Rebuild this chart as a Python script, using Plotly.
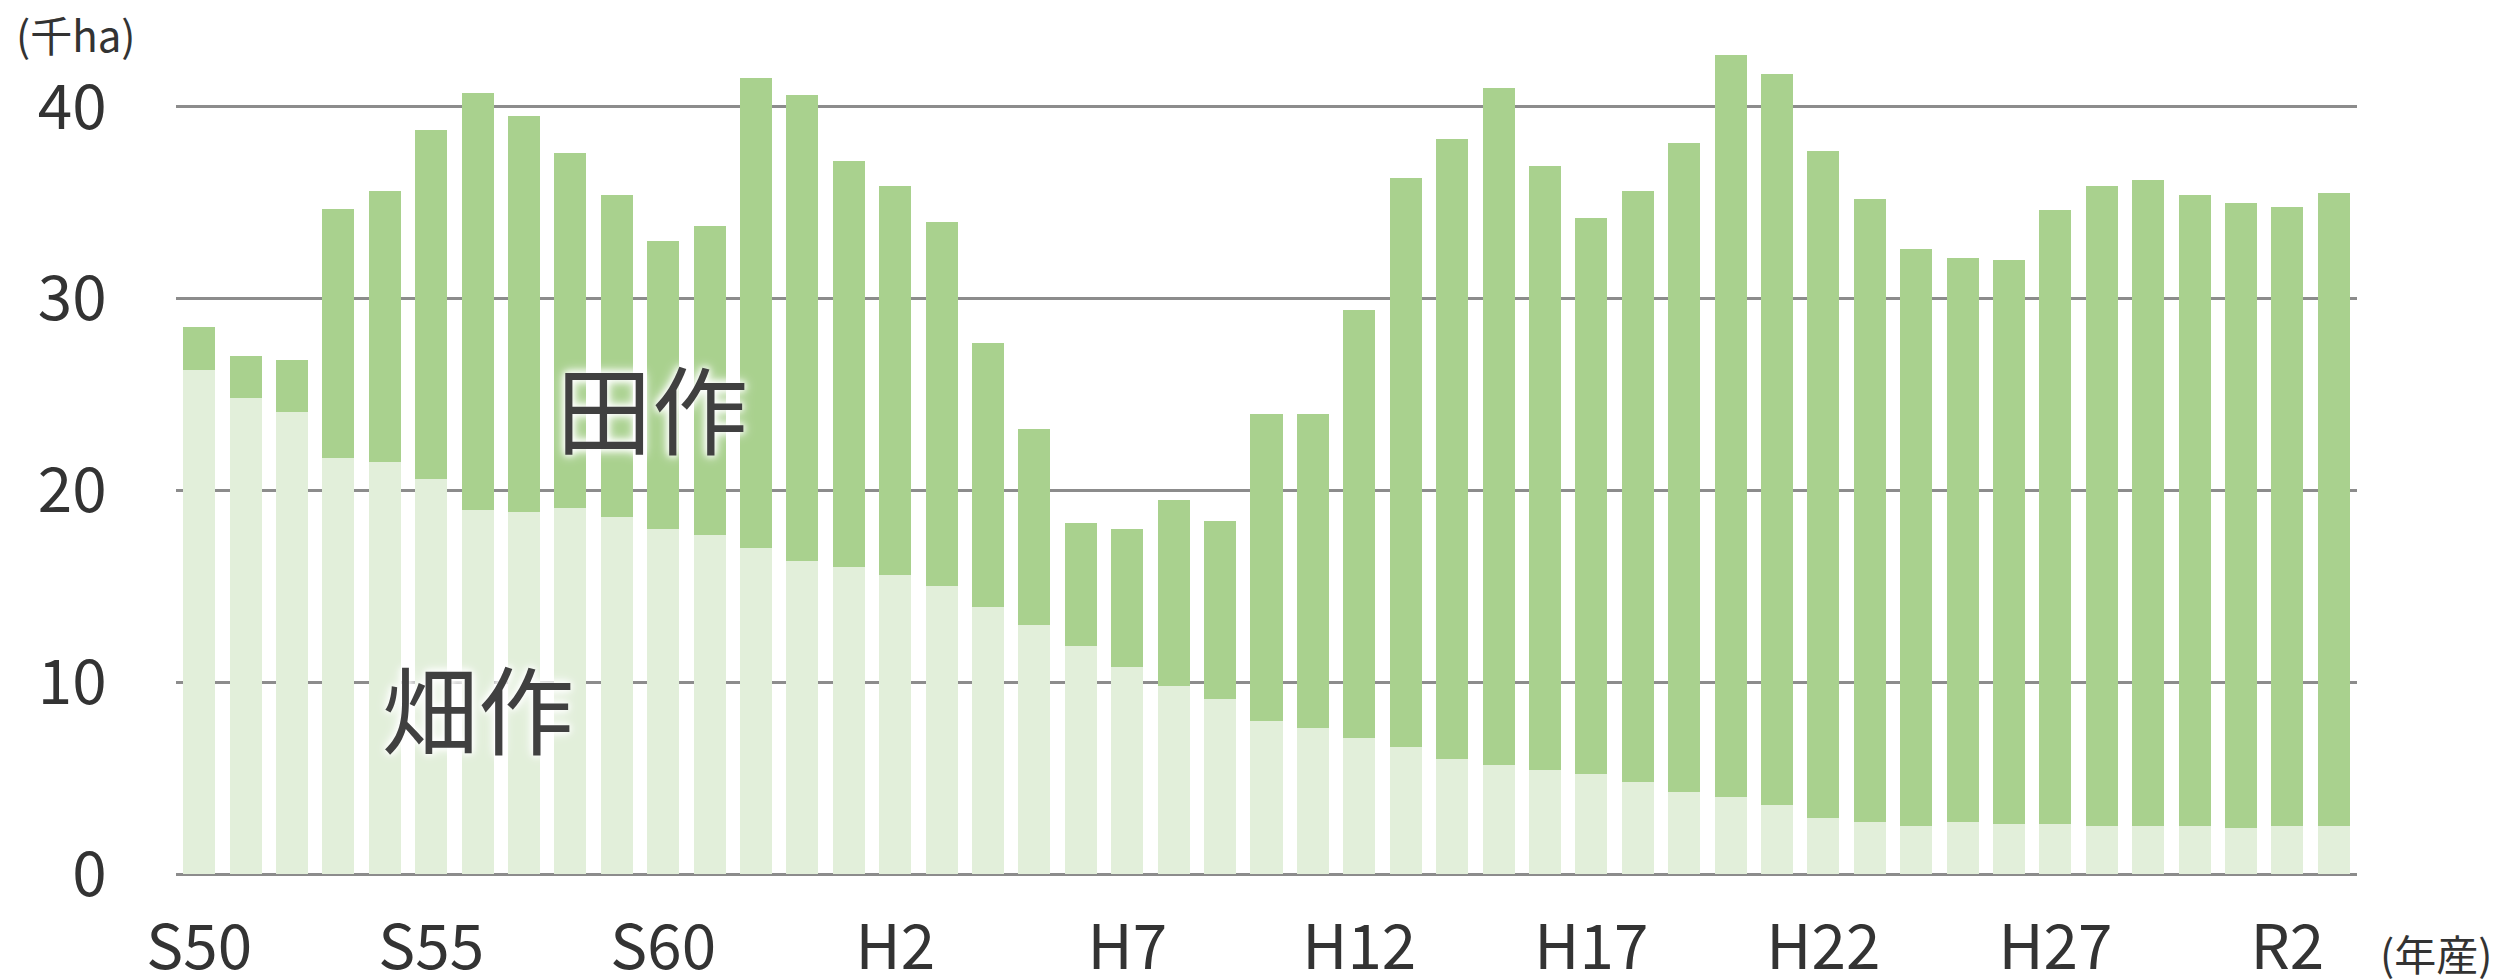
import plotly.graph_objects as go

# 年産ラベル (S50 = 1975 ... R3 = 2021)
years = ([f"S{n}" for n in range(50, 64)] +
         [f"H{n}" for n in range(1, 31)] +
         [f"R{n}" for n in range(1, 4)])

tick_labels = ["S50", "S55", "S60", "H2", "H7", "H12", "H17", "H22", "H27", "R2"]

# 畑作 (千ha)
hatasaku = [26.3, 24.8, 24.1, 21.7, 21.5, 20.6, 19.0, 18.9, 19.1, 18.6,
            18.0, 17.7, 17.0, 16.3, 16.0, 15.6, 15.0, 13.9, 13.0, 11.9,
            10.8, 9.8, 9.1, 8.0, 7.6, 7.1, 6.6, 6.0, 5.7, 5.4,
            5.2, 4.8, 4.3, 4.0, 3.6, 2.9, 2.7, 2.5, 2.7, 2.6,
            2.6, 2.5, 2.5, 2.5, 2.4, 2.5, 2.5]

# 田作 (千ha)
tasaku = [2.2, 2.2, 2.7, 13.0, 14.1, 18.2, 21.7, 20.6, 18.5, 16.8,
          15.0, 16.1, 24.5, 24.3, 21.2, 20.3, 19.0, 13.8, 10.2, 6.4,
          7.2, 9.7, 9.3, 16.0, 16.4, 22.3, 29.7, 32.3, 35.3, 31.5,
          29.0, 30.8, 33.8, 38.7, 38.1, 34.8, 32.5, 30.1, 29.4, 29.4,
          32.0, 33.4, 33.7, 32.9, 32.6, 32.3, 33.0]

font = "Noto Sans CJK JP"
txt = "#333333"

# page puts the figure 8px in from the top-left, so shift the margins back
off = 8
L, R, T, B = 176 - off, 145 + off, 11 - off, 106 + off
W, H = 2502, 980
pw, ph = W - L - R, H - T - B

fig = go.Figure()
fig.add_trace(go.Bar(x=years, y=hatasaku, name="畑作",
                     marker=dict(color="#E2EFDA", line=dict(width=0))))
fig.add_trace(go.Bar(x=years, y=tasaku, name="田作",
                     marker=dict(color="#A9D18E", line=dict(width=0))))

fig.update_layout(
    barmode="stack",
    bargap=0.31,
    width=W, height=H,
    margin=dict(l=L, r=R, t=T, b=B),
    paper_bgcolor="white", plot_bgcolor="white",
    showlegend=False,
    font=dict(family=font, color=txt),
)

fig.update_xaxes(
    type="category",
    tickvals=tick_labels, ticktext=tick_labels,
    tickfont=dict(size=62, family=font, color=txt),
    ticks="outside", ticklen=20, tickcolor="rgba(0,0,0,0)",
    showgrid=False, showline=False, automargin=False,
)
fig.update_yaxes(
    range=[0, 45],
    tickvals=[0, 10, 20, 30, 40],
    tickfont=dict(size=62, family=font, color=txt),
    ticks="outside", ticklen=56, tickcolor="rgba(0,0,0,0)",
    showgrid=True, gridcolor="#8c8c8c", gridwidth=2.5,
    zeroline=True, zerolinecolor="#8c8c8c", zerolinewidth=2.5,
    showline=False, automargin=False,
)


def px(x, y):
    # screen pixel -> paper coords
    return (x - off - L) / pw, (H - B - (y - off)) / ph


glow = "0 0 6px white, 0 0 10px white, 0 0 14px white"
x, y = px(652, 405)
fig.add_annotation(text="田作", x=x, y=y, xref="paper", yref="paper",
                   showarrow=False, xanchor="center", yanchor="middle",
                   font=dict(size=96, family=font, color="#404040", shadow=glow))
x, y = px(478, 705)
fig.add_annotation(text="畑作", x=x, y=y, xref="paper", yref="paper",
                   showarrow=False, xanchor="center", yanchor="middle",
                   font=dict(size=96, family=font, color="#404040", shadow=glow))
x, y = px(14, 34)
fig.add_annotation(text="(千ha)", x=x, y=y, xref="paper", yref="paper",
                   showarrow=False, xanchor="left", yanchor="middle",
                   font=dict(size=42, family=font, color=txt))
x, y = px(2436, 952)
fig.add_annotation(text="(年産)", x=x, y=y, xref="paper", yref="paper",
                   showarrow=False, xanchor="center", yanchor="middle",
                   font=dict(size=42, family=font, color=txt))

fig.write_html("out.html")
